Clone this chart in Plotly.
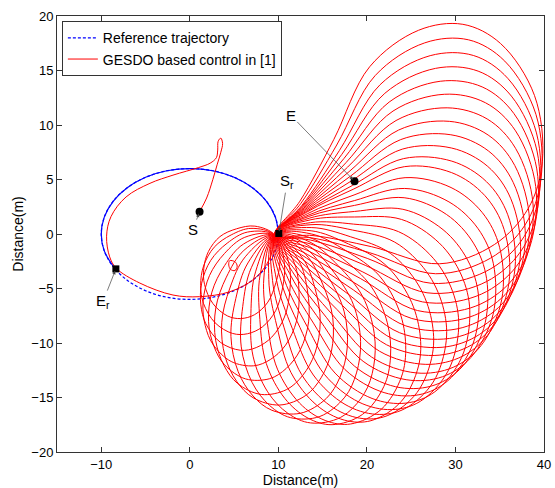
import numpy as np
import plotly.graph_objects as go

# ---------------- data ----------------
# reference trajectory: first full turn of the ellipse (from Sr)
ref_x = [10, 9.66, 8.66, 7.07, 5.0, 2.59, 0.0, -2.59, -5.0, -7.07, -8.66, -9.66, -10.0,
         -9.66, -8.66, -7.07, -5.0, -2.59, 0.0, 2.59, 5.0, 7.07, 8.66, 9.66, 10.0]
ref_y = [0, 1.55, 3.0, 4.24, 5.2, 5.8, 6.0, 5.8, 5.2, 4.24, 3.0, 1.55, 0.0,
         -1.55, -3.0, -4.24, -5.2, -5.8, -6.0, -5.8, -5.2, -4.24, -3.0, -1.55, 0.0]
# second (partial) turn, from Sr to Er, drawn over the first one
ref2_x = [10, 9.66, 8.66, 7.07, 5.0, 2.59, 0.0, -2.59, -5.0, -7.07, -8.66, -9.66, -10.0,
          -9.66, -8.4]
ref2_y = [0, 1.55, 3.0, 4.24, 5.2, 5.8, 6.0, 5.8, 5.2, 4.24, 3.0, 1.55, 0.0, -1.55, -3.25]

# first part of the controlled trajectory (S -> small loop -> around the ellipse -> P)
start_x = [1.1, 1.9, 2.6, 3.1, 3.5, 3.7, 3.5, 3.2, 3.15, 3.0, 2.3, 1.0, -1.9, -4.5, -7.2,
           -8.9, -9.4, -9.05, -8.3, -5.65, -1.9, 1.1, 4.5, 7.3, 9.0, 9.6]
start_y = [2.05, 3.3, 5.0, 6.4, 7.5, 8.3, 8.8, 8.5, 7.7, 7.0, 6.5, 6.1, 5.4, 4.65, 3.4,
           1.6, -0.2, -2.1, -3.15, -4.5, -5.6, -5.75, -5.3, -4.1, -2.3, -0.1]

# tiny loop near (4.9, -2.9)
tiny_x = [4.5, 5.1, 5.35, 5.1, 4.6, 4.4, 4.5]
tiny_y = [-2.45, -2.55, -2.95, -3.35, -3.25, -2.85, -2.45]

# common point of all loops
pivot = (9.6, -0.1)

# loops: direction of far end (deg), length (m), half-width ratio, roundness near pivot
loop_dir = [-138, -130, -122, -113, -104, -96, -88, -80, -73, -66, -59, -53, -47, -42, -37,
            -32.5, -28, -24, -20, -16.5, -13, -9.4, -6.4, -3.4, -0.4, 2.6, 5.6, 8.6, 11.6,
            14.6, 17.6, 20.6, 23.6]
loop_len = [9.4, 10.5, 11.6, 12.6, 13.6, 14.7, 15.6, 16.6, 17.4, 18.3, 19.2, 20.0, 20.9,
            21.6, 22.4, 23.2, 23.9, 24.5, 25.1, 25.7, 26.3, 26.8, 27.3, 27.8, 28.3, 28.8,
            29.3, 29.8, 30.2, 30.6, 31.0, 31.5, 32.0]
loop_wid = [0.44, 0.44, 0.43, 0.43, 0.42, 0.41, 0.41, 0.40, 0.39, 0.38, 0.37, 0.37, 0.36,
            0.36, 0.355, 0.35, 0.35, 0.345, 0.345, 0.34, 0.34, 0.34, 0.335, 0.335, 0.335,
            0.335, 0.335, 0.335, 0.335, 0.335, 0.335, 0.335, 0.335]
loop_round = [0.72, 0.76, 0.8, 0.82, 0.82, 0.8, 0.76, 0.73, 0.7, 0.66, 0.63, 0.6, 0.56,
              0.53, 0.5, 0.46, 0.43, 0.4, 0.36, 0.33, 0.3, 0.27, 0.24, 0.21, 0.18, 0.15,
              0.12, 0.09, 0.06, 0.03, 0.0, 0.0, 0.0]

# loop outline: fraction along the loop axis, and fraction of the half-width
shape_u = [0, 0.12, 0.3, 0.5, 0.7, 0.85, 0.95, 1.0, 0.95, 0.85, 0.7, 0.5, 0.3, 0.12, 0]
shape_pointed = [0, 0.16, 0.5, 0.92, 1.0, 0.86, 0.55, 0, -0.55, -0.86, -1.0, -0.92, -0.5, -0.16, 0]
shape_round = [0, 0.65, 0.92, 1.0, 0.92, 0.71, 0.44, 0, -0.44, -0.71, -0.92, -1.0, -0.92, -0.65, 0]

# marked points
pt_S = (1.1, 2.05)
pt_Sr = (10.05, 0.05)
pt_Er = (-8.35, -3.2)
pt_E = (18.6, 4.85)

# ---------------- build red trajectory ----------------
red_x = list(start_x) + [None] + list(tiny_x) + [None]
red_y = list(start_y) + [None] + list(tiny_y) + [None]
su = np.array(shape_u)
sp = np.array(shape_pointed)
sr = np.array(shape_round)
for d, L, w, r in zip(loop_dir, loop_len, loop_wid, loop_round):
    a = np.deg2rad(d)
    eu = np.array([np.cos(a), np.sin(a)])
    ev = np.array([-np.sin(a), np.cos(a)])
    W = w * L
    sv = sp + r * (sr - sp)
    px = pivot[0] + su * L * eu[0] + sv * W * ev[0]
    py = pivot[1] + su * L * eu[1] + sv * W * ev[1]
    red_x += list(px) + [None]
    red_y += list(py) + [None]

fig = go.Figure()
fig.add_trace(go.Scatter(x=ref_x, y=ref_y, mode="lines", name="Reference trajectory",
                         line=dict(color="#0000ff", width=1.2, dash="3px,2px", shape="spline")))
fig.add_trace(go.Scatter(x=ref2_x, y=ref2_y, mode="lines", showlegend=False, hoverinfo="skip",
                         line=dict(color="#0000ff", width=1.2, shape="spline")))
fig.add_trace(go.Scatter(x=red_x, y=red_y, mode="lines", name="GESDO based control in [1]",
                         line=dict(color="#ff0000", width=1, shape="spline", smoothing=1.0),
                         connectgaps=False))
fig.add_trace(go.Scatter(x=[pt_S[0], pt_E[0]], y=[pt_S[1], pt_E[1]], mode="markers",
                         marker=dict(color="black", size=8), showlegend=False))
fig.add_trace(go.Scatter(x=[pt_Sr[0], pt_Er[0]], y=[pt_Sr[1], pt_Er[1]], mode="markers",
                         marker=dict(color="black", size=7, symbol="square"), showlegend=False))

ann_font = dict(family="Liberation Sans, Arial, sans-serif", size=15, color="black")
labels = [("S", pt_S, (0.35, 0.4)), ("S<sub>r</sub>", pt_Sr, (11.0, 4.8)),
          ("E<sub>r</sub>", pt_Er, (-9.8, -6.2)), ("E", pt_E, (11.4, 10.9))]
for txt, (tx, ty), (lx, ly) in labels:
    fig.add_annotation(x=tx, y=ty, ax=lx, ay=ly, xref="x", yref="y", axref="x", ayref="y",
                       text=txt, showarrow=True, arrowhead=2, arrowsize=1, arrowwidth=0.7,
                       arrowcolor="#444444", font=ann_font, standoff=2)

axis_common = dict(showgrid=False, zeroline=False, showline=True, linecolor="#333333",
                   linewidth=1, mirror="ticks", ticks="inside", ticklen=5, tickcolor="#333333",
                   automargin=False,
                   tickfont=dict(family="Liberation Sans, Arial, sans-serif", size=13, color="black"),
                   title_font=dict(family="Liberation Sans, Arial, sans-serif", size=14, color="black"))
fig.update_xaxes(range=[-15, 40], tickvals=[-10, 0, 10, 20, 30, 40], title_text="Distance(m)",
                 title_standoff=2, **axis_common)
fig.update_yaxes(range=[-20, 20], tickvals=list(range(-20, 21, 5)), title_text="Distance(m)",
                 title_standoff=4, **axis_common)

fig.update_layout(width=555, height=488, margin=dict(l=57, r=11, t=16, b=36),
                  plot_bgcolor="white", paper_bgcolor="white",
                  legend=dict(x=0.01, y=0.988, xanchor="left", yanchor="top",
                              bgcolor="white", bordercolor="#333333", borderwidth=1,
                              font=dict(family="Liberation Sans, Arial, sans-serif", size=14,
                                        color="black"),
                              tracegroupgap=0, itemwidth=30))

fig.write_html("out.html")
